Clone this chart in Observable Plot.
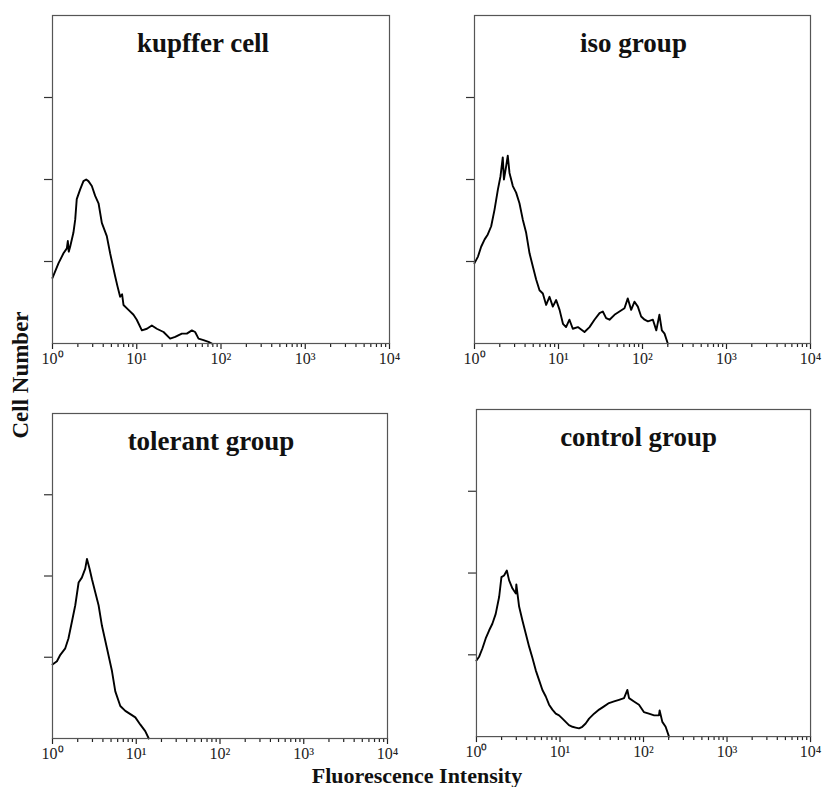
<!DOCTYPE html>
<html>
<head>
<meta charset="utf-8">
<script src="https://cdn.jsdelivr.net/npm/d3@7"></script>
<script src="https://cdn.jsdelivr.net/npm/@observablehq/plot@0.6"></script>
<style>
  body { margin: 0; background: #fff; }
  #chart { position: relative; width: 828px; height: 787px; background: #fff; overflow: hidden;
           font-family: "Liberation Serif", "Times New Roman", serif; }
  .panel { position: absolute; }
  .ylab { position: absolute; left: 20px; top: 375px; transform: translate(-50%, -50%) rotate(-90deg);
          font-weight: bold; font-size: 23px; white-space: nowrap; color: #111; line-height: 23px; }
  .xlab { position: absolute; left: 417px; top: 765px; transform: translateX(-50%);
          font-weight: bold; font-size: 22px; white-space: nowrap; color: #111; line-height: 22px; }
</style>
</head>
<body>
<div id="chart">
  <div class="ylab">Cell Number</div>
  <div class="xlab">Fluorescence Intensity</div>
</div>
<script>
// ---- Data ----
const titles = ["kupffer cell", "iso group", "tolerant group", "control group"];

const kupfferX = [1.0, 1.18, 1.35, 1.48, 1.52, 1.56, 1.62, 1.77, 1.86, 1.94, 2.13, 2.33, 2.51, 2.67, 2.93, 3.21, 3.52, 3.85, 4.41, 4.83, 5.54, 5.9, 6.35, 6.7, 6.96, 7.98, 9.15, 10.0, 11.5, 13.2, 15.1, 17.3, 20.8, 24.9, 28.6, 34.3, 39.3, 45.1, 49.3, 54.1, 62.0, 71.1, 77.8];
const kupfferY = [0.80, 0.98, 1.10, 1.16, 1.25, 1.12, 1.18, 1.35, 1.51, 1.76, 1.88, 1.98, 2.00, 1.98, 1.92, 1.80, 1.71, 1.47, 1.31, 1.10, 0.82, 0.70, 0.57, 0.60, 0.47, 0.41, 0.35, 0.29, 0.16, 0.18, 0.22, 0.18, 0.14, 0.06, 0.08, 0.12, 0.12, 0.16, 0.14, 0.06, 0.04, 0.02, 0];

const isoX = [1.0, 1.10, 1.20, 1.32, 1.44, 1.58, 1.73, 1.90, 2.04, 2.17, 2.24, 2.38, 2.49, 2.61, 2.86, 3.13, 3.43, 3.76, 4.12, 4.52, 4.95, 5.42, 5.94, 6.51, 7.13, 7.81, 8.56, 9.38, 10.3, 11.3, 12.3, 13.5, 14.8, 17.0, 20.4, 23.4, 26.8, 30.8, 33.7, 36.9, 40.5, 46.4, 53.2, 61.0, 66.8, 73.3, 80.3, 88.0, 96.4, 106, 116, 133, 146, 159, 170, 183, 200];
const isoY = [0.98, 1.06, 1.18, 1.27, 1.33, 1.43, 1.63, 1.88, 2.04, 2.27, 2.00, 2.16, 2.29, 2.08, 1.92, 1.84, 1.71, 1.51, 1.35, 1.10, 0.94, 0.78, 0.65, 0.61, 0.47, 0.57, 0.45, 0.53, 0.41, 0.24, 0.20, 0.29, 0.18, 0.20, 0.14, 0.20, 0.29, 0.37, 0.39, 0.31, 0.29, 0.35, 0.39, 0.43, 0.55, 0.41, 0.51, 0.45, 0.33, 0.29, 0.27, 0.29, 0.16, 0.35, 0.16, 0.12, 0];

const tolerantX = [1.0, 1.13, 1.24, 1.42, 1.55, 1.70, 1.87, 2.05, 2.24, 2.46, 2.58, 2.77, 2.96, 3.24, 3.55, 3.89, 4.47, 5.13, 5.62, 6.45, 7.40, 8.50, 9.75, 11.2, 12.8, 14.1];
const tolerantY = [0.91, 0.95, 1.03, 1.11, 1.23, 1.43, 1.64, 1.92, 1.98, 2.09, 2.21, 2.09, 1.96, 1.80, 1.64, 1.39, 1.11, 0.83, 0.58, 0.40, 0.34, 0.30, 0.26, 0.17, 0.09, 0];

const controlX = [1.0, 1.08, 1.18, 1.29, 1.42, 1.55, 1.70, 1.87, 1.99, 2.14, 2.31, 2.46, 2.70, 2.96, 3.0, 3.24, 3.55, 3.89, 4.27, 4.68, 5.13, 5.62, 6.16, 6.76, 7.40, 8.11, 8.90, 9.75, 10.7, 11.7, 12.8, 14.1, 15.4, 16.9, 18.5, 20.3, 22.3, 25.6, 29.4, 33.7, 38.6, 44.4, 50.9, 58.5, 64.1, 67.1, 76.9, 88.3, 101, 116, 134, 153, 156, 168, 184, 202];
const controlY = [0.93, 0.98, 1.08, 1.20, 1.30, 1.38, 1.50, 1.71, 1.95, 1.97, 2.03, 1.91, 1.81, 1.75, 1.86, 1.59, 1.42, 1.26, 1.10, 0.96, 0.81, 0.69, 0.57, 0.49, 0.39, 0.33, 0.28, 0.26, 0.22, 0.18, 0.14, 0.12, 0.11, 0.10, 0.12, 0.16, 0.22, 0.28, 0.33, 0.37, 0.41, 0.43, 0.45, 0.47, 0.57, 0.47, 0.43, 0.39, 0.30, 0.28, 0.26, 0.26, 0.32, 0.18, 0.12, 0];

const majorTicks = [1, 10, 100, 1000, 10000];
const tickLabels = ["10\u2070", "10\u00b9", "10\u00b2", "10\u00b3", "10\u2074"];
const minorMultipliers = [2, 3, 4, 5, 6, 7, 8, 9];
const yTicks = [1, 2, 3];

// ---- Build ----
const minorTicks = majorTicks.slice(0, -1).flatMap(d => minorMultipliers.map(m => m * d));
const series = [
  [kupfferX, kupfferY],
  [isoX, isoY],
  [tolerantX, tolerantY],
  [controlX, controlY]
];
// frame geometry of each panel: left, top, width, height, title offset
const geo = [
  [52, 15, 337, 328, -18],
  [474, 15, 336, 328, -9],
  [52, 413, 335, 325, -9],
  [476, 409, 335, 328, -5]
];

const mL = 12, mR = 18, mT = 2, mB = 28;
const chart = document.getElementById("chart");
const serif = "'Liberation Serif', 'Times New Roman', serif";

series.forEach(([xs, ys], i) => {
  const data = xs.map((x, j) => ({x, y: ys[j]}));
  const [fl, ft, w, h, tdx] = geo[i];
  const svg = Plot.plot({
    width: w + mL + mR,
    height: h + mT + mB,
    marginLeft: mL, marginRight: mR, marginTop: mT, marginBottom: mB,
    x: {type: "log", domain: [1, 10000], label: null},
    y: {domain: [0, 4], label: null},
    style: {fontFamily: serif, fontSize: "16px", color: "#222", background: "transparent", overflow: "visible"},
    marks: [
      Plot.axisY({ticks: yTicks, tickSize: 8, tickFormat: () => "", label: null, stroke: "#333", strokeWidth: 1.2}),
      Plot.axisX({ticks: majorTicks, tickSize: 6, tickPadding: 3, label: null, stroke: "#222", strokeWidth: 1.2,
                  fill: "#222", fontSize: 16, fontFamily: serif,
                  tickFormat: d => tickLabels[majorTicks.indexOf(d)]}),
      Plot.tickX(minorTicks, {x: d => d, insetTop: h, insetBottom: -4, stroke: "#222", strokeWidth: 1.2}),
      Plot.line(data, {x: "x", y: "y", stroke: "#000", strokeWidth: 1.9}),
      Plot.frame({stroke: "#555", strokeWidth: 1.2}),
      Plot.text([titles[i]], {frameAnchor: "top", lineAnchor: "top", dy: 17, dx: tdx,
                  fontSize: 27, fontWeight: "bold", fill: "#111", fontFamily: serif})
    ]
  });
  const div = document.createElement("div");
  div.className = "panel";
  div.style.left = (fl - mL) + "px";
  div.style.top = (ft - mT) + "px";
  div.appendChild(svg);
  chart.appendChild(div);
});
</script>
</body>
</html>
